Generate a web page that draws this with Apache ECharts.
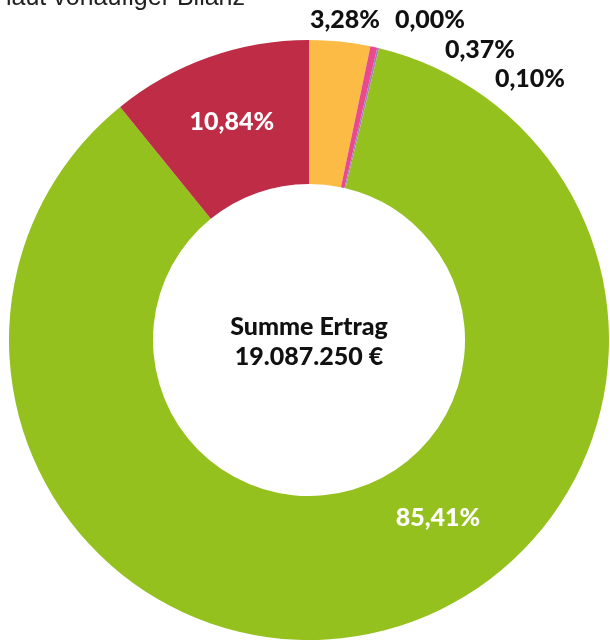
<!DOCTYPE html>
<html>
<head>
<meta charset="utf-8">
<script src="https://cdn.jsdelivr.net/npm/echarts@6/dist/echarts.min.js"></script>
<style>
  html, body { margin: 0; padding: 0; background: #fff; }
  #chart { width: 610px; height: 641px; }
</style>
</head>
<body>
<div id="chart"></div>
<script>
// Anteile am Ertrag in Prozent (laut vorläufiger Bilanz)
const categories = ['Position 1', 'Position 2', 'Position 3', 'Position 4', 'Position 5', 'Position 6'];
const shares = [3.28, 0.004, 0.37, 0.10, 85.41, 10.84];
const colors = ['#fbbb44', '#5b8ed6', '#e84a8c', '#a17cc6', '#95c11f', '#be2c46'];
const totalLabel = 'Summe Ertrag\n19.087.250 €';

// Platzierung der Beschriftungen (außen gestapelt, wie im Original)
const labelSpots = {
  0: [345, 20],
  1: [430, 20],
  2: [480, 50],
  3: [530, 79],
  4: [438, 518]
};

const chart = echarts.init(document.getElementById('chart'));

function fmt(v) {
  return v.toFixed(2).replace('.', ',') + '%';
}

const option = {
  animation: false,
  title: {
    text: 'laut vorläufiger Bilanz',
    left: 6,
    top: -14,
    padding: 0,
    textStyle: {
      fontFamily: 'Liberation Sans',
      fontSize: 25,
      fontWeight: 'normal',
      color: '#222'
    }
  },
  graphic: [{
    type: 'text',
    x: 309,
    y: 342,
    style: {
      text: totalLabel,
      textAlign: 'center',
      textVerticalAlign: 'middle',
      font: '900 25px Lato',
      lineHeight: 30,
      fill: '#111'
    }
  }],
  series: [{
    type: 'pie',
    center: [309, 340],
    radius: [156, 300],
    startAngle: 90,
    clockwise: true,
    avoidLabelOverlap: false,
    itemStyle: { borderWidth: 0 },
    label: {
      show: true,
      position: 'inside',
      formatter: (p) => fmt(p.value),
      fontFamily: 'Lato',
      fontWeight: 900,
      fontSize: 25,
      color: '#fff'
    },
    labelLine: { show: false },
    labelLayout: function (p) {
      const s = labelSpots[p.dataIndex];
      if (!s) return {};
      return { x: s[0], y: s[1], align: 'center', verticalAlign: 'middle' };
    },
    data: categories.map((name, i) => ({
      name: name,
      value: shares[i],
      itemStyle: { color: colors[i] },
      label: i < 4 ? { color: '#111' } : {}
    }))
  }]
};

chart.setOption(option);
</script>
</body>
</html>
